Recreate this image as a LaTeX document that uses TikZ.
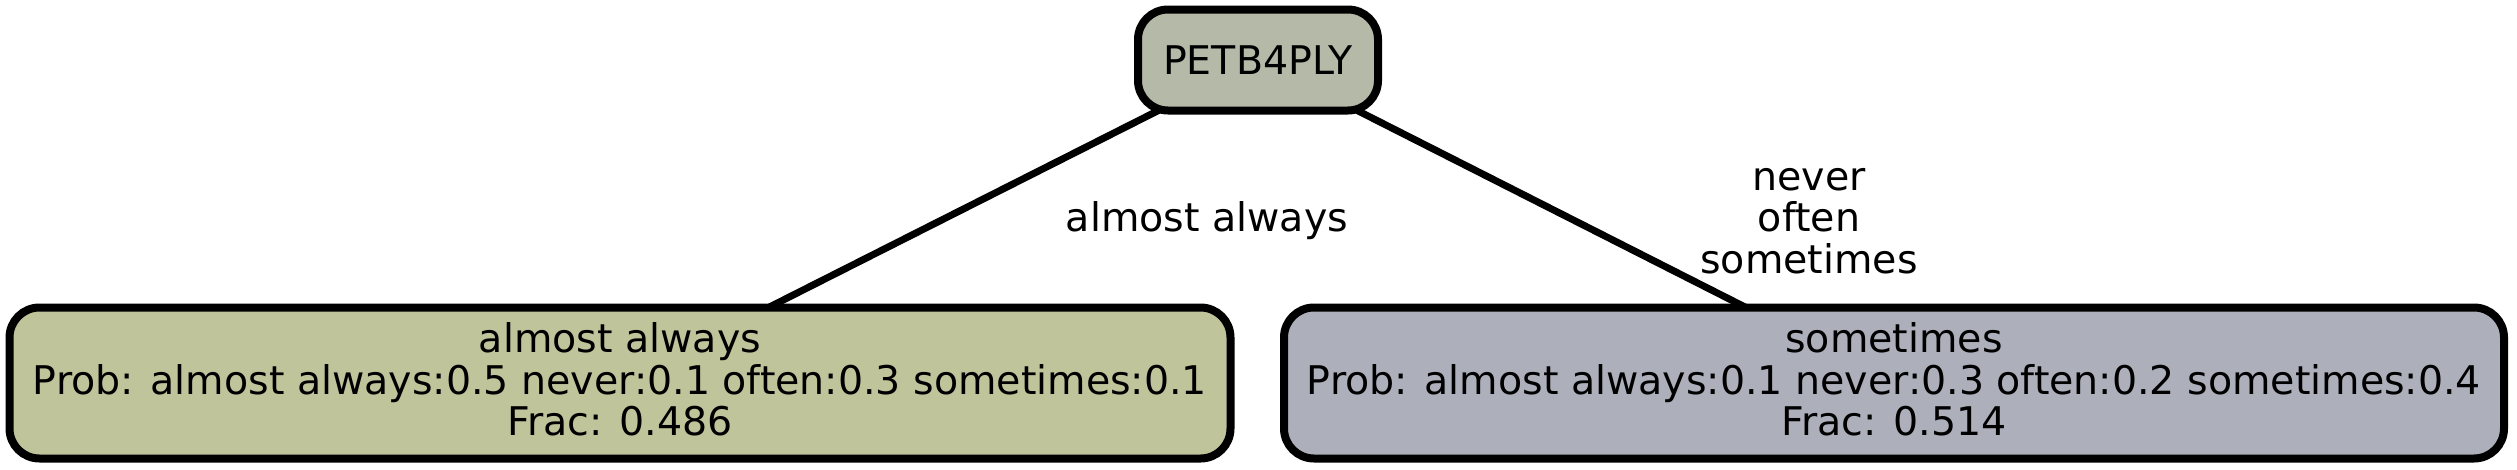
\documentclass[tikz,border=0pt]{standalone}
\usepackage{fontspec}
\setmainfont{DejaVu Sans}
\usetikzlibrary{backgrounds}
\definecolor{topfill}{HTML}{B5B9A8}
\definecolor{leftfill}{HTML}{BFC49B}
\definecolor{rightfill}{HTML}{ADAFBB}
\newcommand{\lowstrut}{\rule[-8pt]{0pt}{8pt}}
\begin{document}
\begin{tikzpicture}[x=1pt,y=-1pt,
  box/.style={draw=black,line width=8pt,rounded corners=30pt,inner sep=0pt,outer sep=0pt,align=center,
    font=\fontsize{39.5}{41.7}\selectfont},
  edge/.style={line width=7pt},
  lbl/.style={font=\fontsize{39.5}{41.7}\selectfont,align=center,inner sep=0pt}]
\useasboundingbox (0,0) rectangle (2517,469);
\node[box,fill=topfill,minimum width=240pt,minimum height=101pt] (top) at (1258,60) {PETB4PLY};
\node[box,fill=leftfill,minimum width=1221pt,minimum height=151pt] (left) at (620,383)
  {almost always\\Prob: almost always:0.5 never:0.1 often:0.3 sometimes:0.1\\Frac: 0.486\lowstrut};
\node[box,fill=rightfill,minimum width=1220pt,minimum height=151pt] (right) at (1894,383)
  {sometimes\\Prob: almost always:0.1 never:0.3 often:0.2 sometimes:0.4\\Frac: 0.514\lowstrut};
\begin{scope}[on background layer]
\draw[edge] (top) -- (left);
\draw[edge] (top) -- (right);
\end{scope}
\node[lbl] (l1) at (1207,221) {almost always};
\node[lbl] (l2) at (1809,221) {never\\often\\sometimes};
\end{tikzpicture}
\end{document}
